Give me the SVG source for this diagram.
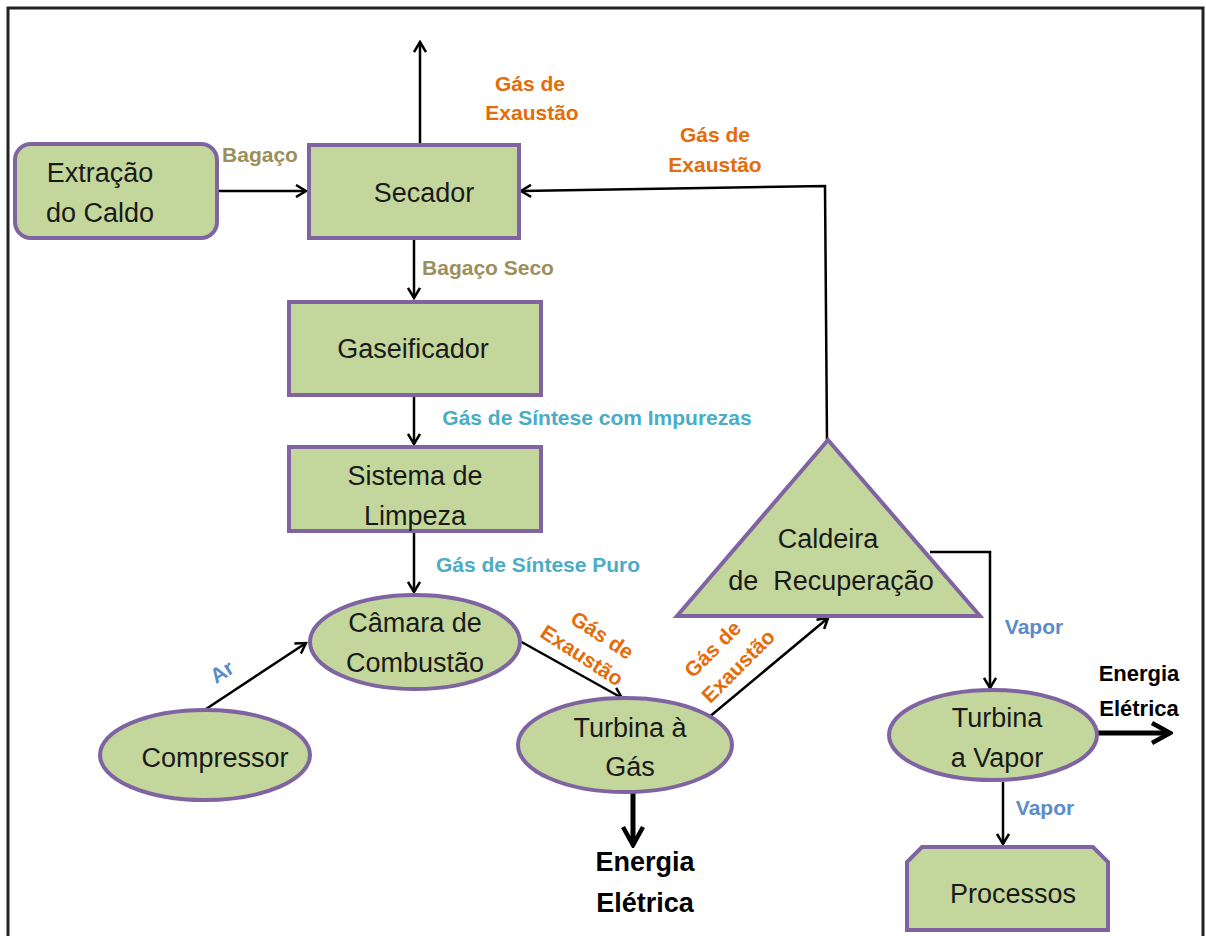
<svg xmlns="http://www.w3.org/2000/svg" width="1206" height="936" viewBox="0 0 1206 936">
<defs>
<style>
.node{fill:#C3D69B;stroke:#8064A2;stroke-width:4}
.nt{font-family:"Liberation Sans",Arial,sans-serif;font-size:27px;fill:#1a1a1a;text-anchor:middle}
.lb{font-family:"Liberation Sans",Arial,sans-serif;font-size:21px;font-weight:bold;text-anchor:middle}
.tan{fill:#9C8F5C}
.org{fill:#E46C0A}
.cy{fill:#4BACC6}
.bl{fill:#5B8BC9}
.blk{fill:#000}
.ln{fill:none;stroke:#000;stroke-width:2.5}
.thick{fill:none;stroke:#000;stroke-width:5}
</style>
<marker id="ah" viewBox="0 0 14 14" refX="12" refY="7" markerWidth="14" markerHeight="14" markerUnits="userSpaceOnUse" orient="auto">
<path d="M2,1 L12,7 L2,13" fill="none" stroke="#000" stroke-width="2.5"/>
</marker>
<marker id="ahb" viewBox="0 0 24 24" refX="21" refY="12" markerWidth="24" markerHeight="24" markerUnits="userSpaceOnUse" orient="auto">
<path d="M3,2 L21,12 L3,22" fill="none" stroke="#000" stroke-width="4.5"/>
</marker>
</defs>
<rect width="1206" height="936" fill="#fff"/>
<path d="M8,940 V8 H1203 V940" fill="none" stroke="#222" stroke-width="3"/>

<g id="connectors">
<path class="ln" d="M217,191 H306" marker-end="url(#ah)"/>
<path class="ln" d="M420,145 V42" marker-end="url(#ah)"/>
<path class="ln" d="M827,440 L825,186 L521,191" marker-end="url(#ah)"/>
<path class="ln" d="M414,238 V298" marker-end="url(#ah)"/>
<path class="ln" d="M414,395 V444" marker-end="url(#ah)"/>
<path class="ln" d="M414,531 V592" marker-end="url(#ah)"/>
<path class="ln" d="M203,711 L306,643" marker-end="url(#ah)"/>
<path class="ln" d="M518,640 L622,698" marker-end="url(#ah)"/>
<path class="ln" d="M708,718 L828,618" marker-end="url(#ah)"/>
<path class="ln" d="M930,552 H990 V688" marker-end="url(#ah)"/>
<path class="ln" d="M1003,782 V844" marker-end="url(#ah)"/>
<path class="thick" d="M633,793 V845" marker-end="url(#ahb)"/>
<path class="thick" d="M1097,733 H1170" marker-end="url(#ahb)"/>
</g>

<g id="labels">
<text class="lb tan" x="260" y="162">Bagaço</text>
<text class="lb org" x="530" y="91">Gás de</text>
<text class="lb org" x="532" y="120">Exaustão</text>
<text class="lb org" x="715" y="142">Gás de</text>
<text class="lb org" x="715" y="172">Exaustão</text>
<text class="lb tan" x="488" y="275">Bagaço Seco</text>
<text class="lb cy" x="597" y="425">Gás de Síntese com Impurezas</text>
<text class="lb cy" x="538" y="572">Gás de Síntese Puro</text>
<text class="lb bl" transform="translate(222,672) rotate(-33)" x="0" y="7">Ar</text>
<g transform="translate(590,643) rotate(33)">
<text class="lb org" x="6" y="-6">Gás de</text>
<text class="lb org" x="0" y="22">Exaustão</text>
</g>
<g transform="translate(727,655) rotate(-45)">
<text class="lb org" x="-6" y="-7">Gás de</text>
<text class="lb org" x="0" y="23">Exaustão</text>
</g>
<text class="lb bl" x="1034" y="634">Vapor</text>
<text class="lb bl" x="1045" y="815">Vapor</text>
<text class="lb blk" x="645" y="871" style="font-size:27px">Energia</text>
<text class="lb blk" x="645" y="912" style="font-size:27px">Elétrica</text>
<text class="lb blk" x="1139" y="681" style="font-size:22px">Energia</text>
<text class="lb blk" x="1139" y="716" style="font-size:22px">Elétrica</text>
</g>

<g id="extracao">
<rect class="node" x="15" y="144" width="202" height="94" rx="16"/>
<text class="nt" x="100" y="182">Extração</text>
<text class="nt" x="100" y="222">do Caldo</text>
</g>
<g id="secador">
<rect class="node" x="309" y="145" width="210" height="93"/>
<text class="nt" x="424" y="202">Secador</text>
</g>
<g id="gaseificador">
<rect class="node" x="289" y="302" width="252" height="93"/>
<text class="nt" x="413" y="358">Gaseificador</text>
</g>
<g id="limpeza">
<rect class="node" x="289" y="447" width="252" height="84"/>
<text class="nt" x="415" y="485">Sistema de</text>
<text class="nt" x="415" y="525">Limpeza</text>
</g>
<g id="camara">
<ellipse class="node" cx="415" cy="642" rx="105" ry="47"/>
<text class="nt" x="415" y="632">Câmara de</text>
<text class="nt" x="415" y="672">Combustão</text>
</g>
<g id="compressor">
<ellipse class="node" cx="205" cy="755" rx="105" ry="45"/>
<text class="nt" x="215" y="767">Compressor</text>
</g>
<g id="turbina-gas">
<ellipse class="node" cx="625" cy="745" rx="107" ry="47"/>
<text class="nt" x="630" y="737">Turbina à</text>
<text class="nt" x="630" y="776">Gás</text>
</g>
<g id="caldeira">
<polygon class="node" points="828,440 980,616 677,616"/>
<text class="nt" x="828" y="548">Caldeira</text>
<text class="nt" x="831" y="590" xml:space="preserve">de  Recuperação</text>
</g>
<g id="turbina-vapor">
<ellipse class="node" cx="993" cy="735" rx="104" ry="45"/>
<text class="nt" x="997" y="727">Turbina</text>
<text class="nt" x="997" y="767">a Vapor</text>
</g>
<g id="processos">
<path class="node" d="M922,847 H1093 L1108,862 V930 H907 V862 Z"/>
<text class="nt" x="1013" y="903">Processos</text>
</g>
</svg>
